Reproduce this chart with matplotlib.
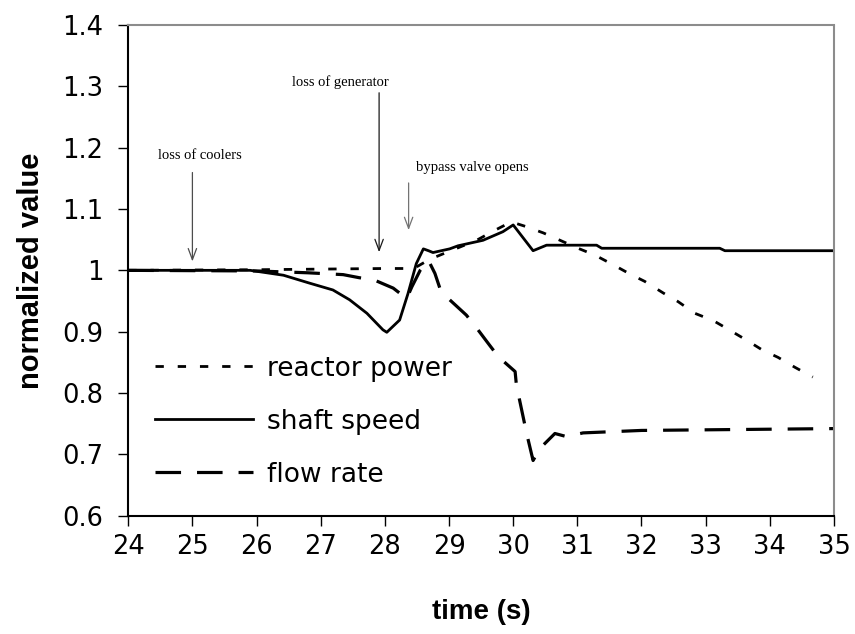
import matplotlib
matplotlib.use("Agg")
import matplotlib.pyplot as plt

# time histories (s) and normalised values
t_shaft = [24, 25, 25.9, 26.42, 26.83, 27.19, 27.45, 27.72, 27.97, 28.03, 28.23, 28.36,
           28.49, 28.6, 28.68, 28.75, 29.01, 29.14, 29.53, 29.84, 30.0, 30.31, 30.52,
           31.3, 31.38, 33.22, 33.3, 35]
shaft = [1.0, 1.0, 1.0, 0.992, 0.979, 0.968, 0.952, 0.930, 0.903, 0.899, 0.919, 0.962,
         1.011, 1.035, 1.032, 1.029, 1.035, 1.040, 1.049, 1.063, 1.074, 1.032, 1.041,
         1.041, 1.036, 1.036, 1.032, 1.032]

t_power = [24, 26, 27, 28.0, 28.45, 28.7, 28.91, 29.43, 29.69, 29.97, 30.21, 30.47, 30.73,
           31.01, 31.27, 31.56, 31.82, 32.05, 32.34, 32.57, 32.83, 33.12, 33.35, 33.64,
           33.87, 34.13, 34.39, 34.67]
power = [1.0, 1.001, 1.002, 1.003, 1.003, 1.018, 1.027, 1.049, 1.064, 1.079, 1.071, 1.061,
         1.049, 1.036, 1.025, 1.009, 0.994, 0.982, 0.963, 0.949, 0.930, 0.918, 0.904,
         0.886, 0.871, 0.858, 0.842, 0.826]

t_flow = [24, 26, 26.8, 27.35, 27.6, 27.84, 28.13, 28.34, 28.42, 28.55, 28.68, 28.78,
          28.86, 29.01, 29.27, 29.43, 29.61, 29.77, 30.03, 30.05, 30.21, 30.31, 30.42,
          30.65, 30.83, 31.09, 32, 35]
flow = [1.0, 0.999, 0.996, 0.993, 0.988, 0.984, 0.971, 0.954, 0.973, 1.0, 1.016, 0.995,
        0.97, 0.952, 0.927, 0.906, 0.881, 0.859, 0.835, 0.813, 0.734, 0.69, 0.71,
        0.734, 0.729, 0.735, 0.739, 0.742]

# events: label, arrow x, arrow top, arrow tip, text position, colour
ev_text = ["loss of coolers", "loss of generator", "bypass valve opens"]
ev_t = [25.0, 27.91, 28.37]
ev_top = [1.164, 1.294, 1.147]
ev_tip = [1.01, 1.025, 1.061]
ev_tx = [25.12, 27.31, 28.48]
ev_ty = [1.188, 1.307, 1.167]
ev_ha = ["center", "center", "left"]
ev_col = ["0.3", "0.1", "0.45"]

xticks = list(range(24, 36))
yticks = [0.6, 0.7, 0.8, 0.9, 1.0, 1.1, 1.2, 1.3, 1.4]
ylabels = ["0.6", "0.7", "0.8", "0.9", "1", "1.1", "1.2", "1.3", "1.4"]

plt.rcParams["font.family"] = ["DejaVu Sans"]

fig = plt.figure(figsize=(8.55, 6.34), dpi=100)
ax = fig.add_axes([0.150, 0.1866, 0.8254, 0.774])

ax.plot(t_power, power, color="black", lw=2, dashes=(3, 5), label="reactor power")
ax.plot(t_shaft, shaft, color="black", lw=2, label="shaft speed")
ax.plot(t_flow, flow, color="black", lw=2.3, dashes=(8, 5), label="flow rate")

for txt, x, y0, y1, tx, ty, ha, c in zip(ev_text, ev_t, ev_top, ev_tip, ev_tx, ev_ty, ev_ha, ev_col):
    ax.annotate("", xy=(x, y1), xytext=(x, y0),
                arrowprops=dict(arrowstyle="->,head_length=0.8,head_width=0.3", lw=0.9, color=c))
    ax.text(tx, ty, txt, ha=ha, va="center", fontsize=10.5, family="Liberation Serif", color="black")

ax.set_xlim(24, 35)
ax.set_ylim(0.6, 1.4)
ax.set_xticks(xticks)
ax.set_yticks(yticks)
ax.set_yticklabels(ylabels)
ax.tick_params(labelsize=18.5, direction="out", length=7, width=1)
ax.tick_params(axis="x", pad=6)
ax.tick_params(axis="y", pad=11)

for s in ["left", "bottom"]:
    ax.spines[s].set_linewidth(1.5)
for s in ["top", "right"]:
    ax.spines[s].set_color("0.55")
    ax.spines[s].set_linestyle((0, (1, 1)))
    ax.spines[s].set_linewidth(1.5)

ax.set_xlabel("time (s)", fontsize=20, fontweight="bold", family="Liberation Sans", labelpad=28)
ax.set_ylabel("normalized value", fontsize=21, fontweight="bold", family="Liberation Sans", labelpad=12)

ax.legend(loc="upper left", bbox_to_anchor=(0.038, 0.326), frameon=False, fontsize=19,
          handlelength=3.7, handletextpad=0.53, labelspacing=1.02, borderpad=0, borderaxespad=0)

fig.savefig("out.png", dpi=100)
